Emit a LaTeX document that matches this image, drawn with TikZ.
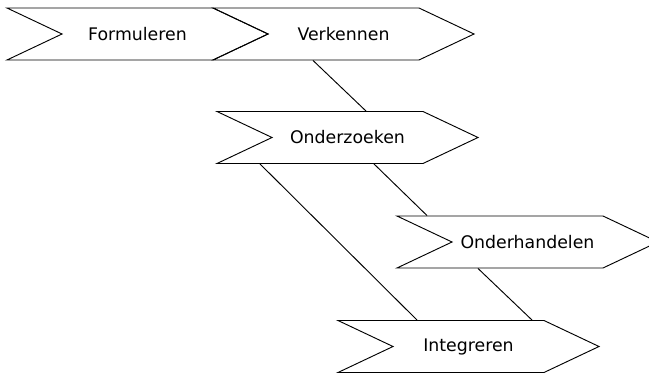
\documentclass[tikz,border=0pt]{standalone}
\usepackage{fontspec}
\setmainfont{DejaVu Sans}
\usetikzlibrary{shapes.symbols,calc}
\begin{document}
\begin{tikzpicture}[x=.75pt,y=-.75pt,
stap/.style={draw,signal,signal to=east,signal from=west,signal pointer angle=50.6,
  minimum width=195.75pt,minimum height=39pt,inner sep=0pt,line width=.7pt,
  font=\fontsize{13}{15}\selectfont},
lijn/.style={line width=.7pt}]
\useasboundingbox (0,0) rectangle (649,374);
\node[stap](fo) at (137.5,34){Formuleren};
\node[stap](vk) at (343.5,34){Verkennen};
\node[stap](oz) at (347.5,137.5){Onderzoeken};
\node[stap](oh) at (527.5,242){Onderhandelen};
\node[stap](ig) at (468.5,346.5){Integreren};
\draw[lijn]($(vk.south)+(-30.5,0)$)--($(oz.north)+(18.5,0)$);
\draw[lijn]($(oz.south)+(26.5,0)$)--($(oh.north)+(-100.5,0)$);
\draw[lijn]($(oz.south)+(-87.5,0)$)--($(ig.north)+(-51.5,0)$);
\draw[lijn]($(oh.south)+(-49.5,0)$)--($(ig.north)+(63.5,0)$);
\end{tikzpicture}
\end{document}
